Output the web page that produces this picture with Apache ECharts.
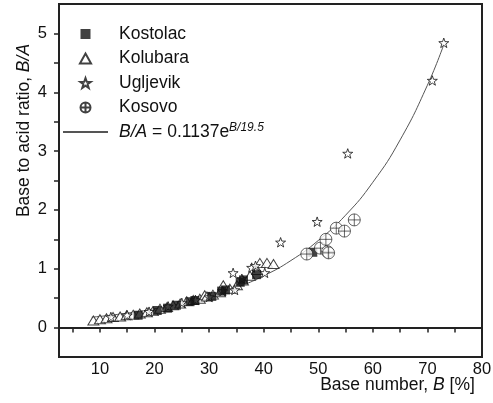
<!DOCTYPE html>
<html>
<head>
<meta charset="utf-8">
<script src="https://cdn.jsdelivr.net/npm/echarts@6/dist/echarts.min.js"></script>
<style>html,body{margin:0;padding:0;background:#fff}#c{width:493px;height:403px}</style>
</head>
<body>
<div id="c"></div>
<script>
// ---- data ----
const kostolac = [[17.0,0.21],[20.5,0.29],[22.4,0.33],[24.0,0.38],[26.5,0.44],[27.4,0.46],[30.5,0.53],[32.3,0.62],[33.0,0.64],[35.7,0.77],[36.3,0.81],[38.7,0.90],[49.0,1.28]];
const kolubara = [[8.8,0.12],[10.0,0.14],[11.2,0.16],[12.4,0.18],[13.7,0.19],[14.9,0.21],[16.1,0.22],[17.3,0.24],[18.6,0.26],[19.7,0.28],[21.0,0.32],[22.3,0.35],[23.4,0.38],[24.7,0.41],[25.9,0.45],[27.1,0.47],[28.3,0.49],[29.2,0.55],[29.6,0.53],[30.7,0.56],[32.0,0.60],[32.6,0.72],[33.8,0.66],[35.1,0.72],[36.2,0.80],[37.5,0.88],[38.8,0.98],[39.3,1.10],[40.6,1.10],[41.8,1.08]];
const ugljevik = [[12.0,0.18],[15.0,0.21],[19.0,0.27],[22.5,0.36],[25.0,0.42],[27.5,0.47],[30.0,0.52],[32.5,0.62],[34.4,0.93],[34.7,0.64],[36.0,0.83],[37.8,1.02],[38.5,1.05],[40.2,0.93],[43.1,1.45],[49.8,1.80],[55.4,2.96],[70.9,4.20],[73.0,4.84]];
const kosovo = [[47.9,1.25],[50.4,1.35],[51.4,1.50],[51.7,1.29],[51.9,1.27],[53.3,1.69],[54.8,1.64],[56.6,1.83]];
// fitted curve B/A = 0.1137 e^(B/19.5)
const fitX = [8.5,15,20,25,30,35,40,45,50,55,60,65,70,73];
const fitY = [0.176,0.245,0.32,0.41,0.53,0.68,0.88,1.14,1.48,1.91,2.47,3.19,4.12,4.81];
const xTicks = [10,20,30,40,50,60,70,80];
const xMinorTicks = [5,10,15,20,25,30,35,40,45,50,55,60,65,70,75,80];
const yTicks = [0,1,2,3,4,5];
const yMinorTicks = [0,0.5,1,1.5,2,2.5,3,3.5,4,4.5,5];
const names = ['Kostolac','Kolubara','Ugljevik','Kosovo','fit'];

const FONT = 'Liberation Sans, Arial, Helvetica, sans-serif';
const FS = 17.5;
const SQUARE = 'path://M0,0L10,0L10,10L0,10Z';
const TRI = 'path://M5,0L10,9L0,9Z';
const STAR = 'path://M0,-10L2.35,-3.24L9.51,-3.09L3.8,1.24L5.88,8.09L0,4L-5.88,8.09L-3.8,1.24L-9.51,-3.09L-2.35,-3.24Z';
const CIRC = 'path://M0,-10A10,10,0,1,1,0,10A10,10,0,1,1,0,-10ZM-10,0L10,0M0,-10L0,10';

const chart = echarts.init(document.getElementById('c'), null, {renderer:'canvas'});
const axisCol = '#222';
chart.setOption({
  animation: false,
  backgroundColor: '#fff',
  grid: {left: 59, right: 11, top: 4, bottom: 46, containLabel: false, outerBoundsMode: 'none',
    show: true, borderColor: axisCol, borderWidth: 2, backgroundColor: 'transparent'},
  xAxis: {
    type: 'value', min: 2.5, max: 80,
    name: 'Base number, {i|B} [%]', nameLocation: 'middle', nameGap: 19, nameMoveOverlap: false,
    nameTextStyle: {fontFamily: FONT, fontSize: FS, color: '#111', padding: [0,0,0,254],
      rich: {i: {fontFamily: FONT, fontSize: FS, fontStyle: 'italic', color: '#111'}}},
    axisLine: {show: true, lineStyle: {color: axisCol, width: 2}},
    axisTick: {show: true, inside: false, length: 5, lineStyle: {color: axisCol, width: 1.5}, customValues: xMinorTicks},
    axisLabel: {fontFamily: FONT, fontSize: 16.5, color: '#111', margin: 4, customValues: xTicks},
    splitLine: {show: false}
  },
  yAxis: {
    type: 'value', min: -0.5, max: 5.5,
    name: '{n|Base to acid ratio, }{i|B/A}', nameLocation: 'middle', nameGap: 26, nameRotate: 90, nameMoveOverlap: false,
    nameTextStyle: {padding: [0,0,0,100],
      rich: {n: {fontFamily: FONT, fontSize: FS, color: '#111'}, i: {fontFamily: FONT, fontSize: FS, fontStyle: 'italic', color: '#111'}}},
    axisLine: {show: true, lineStyle: {color: axisCol, width: 2}},
    axisTick: {show: true, inside: false, length: 5, lineStyle: {color: axisCol, width: 1.5}, customValues: yMinorTicks},
    axisLabel: {fontFamily: FONT, fontSize: 16.5, color: '#111', margin: 12, customValues: yTicks},
    splitLine: {show: false}
  },
  legend: {
    orient: 'vertical', left: 57, top: 19, padding: 5, itemWidth: 45, itemHeight: 10, itemGap: 4.5,
    data: ['Kostolac','Kolubara','Ugljevik','Kosovo',{name: 'fit', itemStyle: {opacity: 0}}],
    textStyle: {fontFamily: FONT, fontSize: FS, color: '#111', lineHeight: 20, padding: [0,0,0,6],
      rich: {i: {fontFamily: FONT, fontSize: FS, fontStyle: 'italic', color: '#111', lineHeight: 20},
             s: {fontFamily: FONT, fontSize: 12, fontStyle: 'italic', color: '#111', verticalAlign: 'top', lineHeight: 20}}},
    formatter: function (n) { return n === 'fit' ? '{i|B/A} = 0.1137e{s|B/19.5}' : n; }
  },
  series: [
    {name: 'Kolubara', type: 'scatter', data: kolubara, symbol: TRI, symbolKeepAspect: true, symbolSize: [11,10],
      itemStyle: {color: '#fff', borderColor: '#111', borderWidth: 1}},
    {name: 'Ugljevik', type: 'scatter', data: ugljevik, symbol: STAR, symbolKeepAspect: true, symbolSize: 10,
      itemStyle: {color: '#fff', borderColor: '#111', borderWidth: 1}},
    {name: 'Kostolac', type: 'scatter', data: kostolac, symbol: SQUARE, symbolKeepAspect: true, symbolSize: 9,
      itemStyle: {color: '#111', borderColor: '#111', borderWidth: 0}},
    {name: 'Kosovo', type: 'scatter', data: kosovo, symbol: CIRC, symbolKeepAspect: true, symbolSize: 12,
      itemStyle: {color: '#fff', borderColor: '#111', borderWidth: 0.8}},
    {name: 'fit', type: 'line', data: fitX.map((x, i) => [x, fitY[i]]), smooth: true, symbol: 'none', showSymbol: false,
      lineStyle: {color: '#555', width: 1}, itemStyle: {color: '#555'}, z: 1}
  ]
});
</script>
</body>
</html>
